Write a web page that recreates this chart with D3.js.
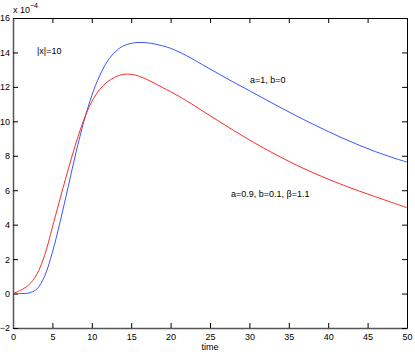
<!DOCTYPE html>
<html>
<head>
<meta charset="utf-8">
<script src="https://cdn.jsdelivr.net/npm/d3@7"></script>
<style>
    body { margin: 0; background: #fff; }
    text { font-family: "Liberation Sans", Arial, sans-serif; fill: #000; }
</style>
</head>
<body>
<script>
// time points and the two curves (values in units of 1e-4)
var time = [0, 1, 2, 3, 4, 5, 6, 7, 8, 9, 10, 11, 12, 13, 14, 15, 16, 17, 18, 19, 20,
    22, 24, 26, 28, 30, 32, 34, 36, 38, 40, 42, 44, 46, 48, 50];
var blue = [0, 0, 0.03, 0.25, 1.0, 2.4, 4.2, 6.2, 8.2, 10.0, 11.5, 12.65, 13.5, 14.05, 14.38, 14.53, 14.58, 14.56, 14.49, 14.38, 14.24,
    13.82, 13.3, 12.78, 12.27, 11.78, 11.28, 10.79, 10.31, 9.85, 9.41, 8.99, 8.6, 8.24, 7.92, 7.63];
var red = [0, 0.2, 0.5, 1.1, 2.2, 3.85, 5.55, 7.2, 8.75, 10.1, 11.15, 11.85, 12.3, 12.58, 12.73, 12.73, 12.62, 12.43, 12.2, 11.96, 11.72,
    11.2, 10.62, 10.04, 9.47, 8.92, 8.4, 7.91, 7.45, 7.03, 6.64, 6.28, 5.94, 5.62, 5.3, 4.99];
var xTicks = [0, 5, 10, 15, 20, 25, 30, 35, 40, 45, 50];
var yTicks = [-2, 0, 2, 4, 6, 8, 10, 12, 14, 16];

draw_chart();

function draw_chart() {
    var w = 415;
    var h = 354;
    var left = 13, right = 407, top = 18, bottom = 328;

    var svg = d3.select("body")
        .append("svg")
        .attr("width", w)
        .attr("height", h);

    var x = d3.scaleLinear().domain([0, 50]).range([left, right]);
    var y = d3.scaleLinear().domain([-2, 16]).range([bottom, top]);

    // box with inward ticks on every side
    svg.append("g")
        .attr("transform", "translate(0," + bottom + ")")
        .call(d3.axisBottom(x).tickValues(xTicks).tickSizeInner(-5).tickSizeOuter(0).tickPadding(6))
        .call(style_axis, "#555");
    svg.append("g")
        .attr("transform", "translate(0," + top + ")")
        .call(d3.axisTop(x).tickValues(xTicks).tickSizeInner(-5).tickSizeOuter(0).tickFormat(""))
        .call(style_axis, "#000");
    svg.append("g")
        .attr("transform", "translate(" + left + ",0)")
        .call(d3.axisLeft(y).tickValues(yTicks).tickSizeInner(-5).tickSizeOuter(0).tickPadding(3)
            .tickFormat(function(d) { return d < 0 ? "\u2212" + (-d) : d; }))
        .call(style_axis, "#555");
    svg.append("g")
        .attr("transform", "translate(" + right + ",0)")
        .call(d3.axisRight(y).tickValues(yTicks).tickSizeInner(-5).tickSizeOuter(0).tickFormat(""))
        .call(style_axis, "#000");

    var line = d3.line()
        .x(function(d) { return x(d[0]); })
        .y(function(d) { return y(d[1]); })
        .curve(d3.curveCatmullRom.alpha(0.5));

    svg.append("path")
        .datum(d3.zip(time, blue))
        .attr("d", line)
        .attr("fill", "none")
        .attr("stroke", "#3a55ff")
        .attr("stroke-width", 1);

    svg.append("path")
        .datum(d3.zip(time, red))
        .attr("d", line)
        .attr("fill", "none")
        .attr("stroke", "#ff2a2a")
        .attr("stroke-width", 1);

    // exponent label
    var ex = svg.append("text")
        .attr("x", 13)
        .attr("y", 13)
        .style("font-size", "9px");
    ex.append("tspan").text("x 10");
    ex.append("tspan").attr("dy", -5).style("font-size", "7px").text("\u22124");

    svg.append("text").attr("x", 37).attr("y", 54).style("font-size", "9px").text("|x|=10");
    svg.append("text").attr("x", 250).attr("y", 83).style("font-size", "9px").text("a=1, b=0");
    svg.append("text").attr("x", 231).attr("y", 197).style("font-size", "9px").text("a=0.9, b=0.1, \u03b2=1.1");

    svg.append("text")
        .attr("x", (left + right) / 2)
        .attr("y", 350)
        .attr("text-anchor", "middle")
        .style("font-size", "9px")
        .text("time");
}

function style_axis(g, col) {
    g.select(".domain").attr("stroke", col).attr("stroke-width", col == "#000" ? 1 : 1.5);
    g.selectAll(".tick line").attr("stroke", "#000");
    g.selectAll(".tick text")
        .style("font-family", "Liberation Sans, Arial, sans-serif")
        .style("font-size", "9px")
        .attr("fill", "#000");
}
</script>
</body>
</html>
